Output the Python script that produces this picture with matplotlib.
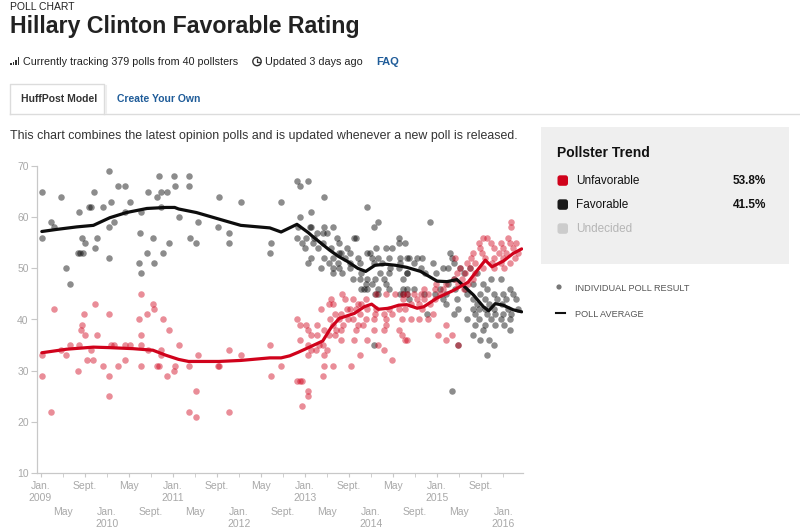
import matplotlib
matplotlib.use("Agg")
import matplotlib.pyplot as plt
from matplotlib.patches import Rectangle, Circle, FancyBboxPatch
from matplotlib.lines import Line2D
from matplotlib.transforms import IdentityTransform

plt.rcParams['font.family'] = ['Liberation Sans', 'DejaVu Sans']

# ---- data (decimal years, percent) ----
fav_dates = [
    2009.02, 2009.02, 2009.16, 2009.20, 2009.31, 2009.38, 2009.45, 2009.56, 2009.60, 2009.64,
    2009.58, 2009.63, 2009.67, 2009.73, 2009.77, 2009.81, 2009.83, 2009.85, 2009.95,
    2010.03, 2010.04, 2010.06, 2010.04, 2010.11, 2010.17, 2010.28, 2010.28, 2010.35, 2010.49,
    2010.52, 2010.51, 2010.52, 2010.62, 2010.61, 2010.70, 2010.71, 2010.77, 2010.80, 2010.83,
    2010.92, 2010.86, 2010.82, 2010.94,
    2011.02, 2011.04, 2011.09, 2011.24, 2011.24, 2011.26, 2011.35, 2011.38, 2011.70, 2011.68,
    2011.85, 2011.85,
    2012.03, 2012.47, 2012.49, 2012.64, 2012.88, 2012.88, 2012.92, 2012.93, 2012.90, 2012.95,
    2013.05, 2013.29, 2013.94, 2013.10, 2013.07, 2013.09, 2013.42, 2013.29, 2013.27, 2013.19,
    2013.34, 2013.02, 2013.14, 2013.48, 2013.12, 2013.27, 2013.52, 2013.75, 2013.78, 2013.00,
    2013.20, 2013.40, 2013.63, 2013.51, 2013.55, 2013.68, 2013.94,
    2013.10, 2013.29, 2013.42, 2013.60, 2013.80,
    2013.04, 2013.37, 2013.50, 2013.68, 2013.83,
    2013.24, 2013.42, 2013.52, 2013.68,
    2013.42, 2013.56, 2013.85,
    2013.73, 2013.83, 2013.93, 2013.85, 2013.89,
    2014.10, 2014.05, 2013.99, 2014.07, 2014.22, 2014.32, 2014.42, 2014.42, 2014.52,
    2014.01, 2014.11, 2014.27, 2014.44, 2014.54,
    2014.04, 2014.16, 2014.44,
    2014.29, 2014.42,
    2014.14, 2014.27, 2014.54,
    2013.94, 2014.06, 2014.19, 2014.49,
    2014.01, 2014.22,
    2013.94, 2014.11, 2014.27, 2014.49,
    2014.06, 2014.11, 2014.44, 2014.54,
    2014.05,
    2014.89,
    2014.57, 2014.70, 2014.77, 2015.22, 2015.20,
    2014.65, 2014.94, 2015.25,
    2014.75, 2015.09, 2015.17, 2015.35, 2015.50,
    2014.54, 2014.82, 2014.99, 2015.40, 2015.60,
    2015.25, 2015.81, 2015.96,
    2015.17, 2015.55, 2015.70,
    2014.54, 2014.65, 2015.04, 2015.27, 2015.42, 2015.75, 2016.10,
    2014.49, 2014.80, 2014.97, 2015.14, 2015.45, 2015.65, 2015.86, 2016.00, 2016.15,
    2014.57, 2015.09, 2015.30, 2015.55, 2015.73, 2015.91, 2016.05, 2016.20,
    2015.14, 2015.60, 2015.78, 2015.98,
    2015.32, 2015.55, 2015.63, 2015.73, 2015.86, 2016.07, 2016.23,
    2015.25, 2015.58, 2015.75, 2015.88, 2016.00, 2016.12, 2014.84,
    2015.45, 2015.63, 2015.81, 2015.96, 2016.10,
    2015.58, 2015.73, 2015.88, 2016.02,
    2016.10, 2015.70,
    2015.55,
    2015.65, 2015.78,
    2015.86, 2015.32,
    2015.75,
    2015.22,
]
fav_values = [
    65, 56, 59, 58, 64, 50, 47, 53, 53, 53,
    61, 56, 55, 62, 62, 65, 54, 56, 62,
    52, 69, 63, 58, 59, 66, 66, 61, 63, 51,
    49, 57, 61, 65, 53, 56, 51, 64, 68, 65,
    65, 53, 62, 55,
    68, 66, 60, 68, 66, 56, 55, 59, 64, 58,
    57, 55,
    63, 53, 55, 63, 67, 56, 66, 60, 58, 55,
    67, 64, 62, 61, 58, 58, 58, 58, 57, 57,
    57, 56, 56, 56, 55, 55, 55, 56, 56, 54,
    54, 54, 54, 53, 53, 53, 53,
    52, 52, 52, 52, 52,
    51, 51, 51, 51, 51,
    50, 50, 50, 50,
    49, 49, 49,
    48, 48, 47, 46, 46,
    59, 58, 53, 54, 54, 54, 55, 56, 55,
    52, 52, 52, 52, 52,
    51, 51, 51,
    50, 50,
    49, 49, 49,
    48, 48, 48, 48,
    47, 47,
    46, 46, 46, 46,
    45, 45, 45, 45,
    35,
    59,
    52, 52, 52, 52, 53,
    51, 51, 51,
    50, 50, 50, 50, 50,
    49, 49, 49, 49, 49,
    48, 48, 48,
    47, 47, 47,
    46, 46, 46, 46, 46, 46, 46,
    45, 45, 45, 45, 45, 45, 45, 45, 45,
    44, 44, 44, 44, 44, 44, 44, 44,
    43, 43, 43, 43,
    42, 42, 42, 42, 42, 42, 42,
    41, 41, 41, 41, 41, 41, 41,
    40, 40, 40, 40, 40,
    39, 39, 39, 39,
    38, 38,
    37,
    36, 36,
    35, 35,
    33,
    26,
]

unfav_dates = [
    2009.02, 2009.02, 2009.16, 2009.20, 2009.31, 2009.38, 2009.45, 2009.56, 2009.58, 2009.62,
    2009.63, 2009.66, 2009.67, 2009.70, 2009.76, 2009.80, 2009.83, 2009.85, 2009.95,
    2010.03, 2010.04, 2010.03, 2010.06, 2010.11, 2010.17, 2010.28, 2010.28, 2010.35, 2010.49,
    2010.52, 2010.52, 2010.52, 2010.52, 2010.61, 2010.62, 2010.70, 2010.71, 2010.77, 2010.80,
    2010.82, 2010.86, 2010.83, 2010.92, 2010.94,
    2011.02, 2011.04, 2011.09, 2011.24, 2011.38, 2011.35, 2011.25, 2011.35, 2011.68, 2011.70,
    2011.85, 2011.85,
    2012.03, 2012.47, 2012.49, 2012.64, 2012.88, 2012.93, 2012.92, 2012.88, 2012.92, 2012.95,
    2013.56,
    2013.40, 2013.60, 2013.73, 2013.92,
    2013.37, 2013.42, 2013.80, 2013.85,
    2013.24, 2013.63, 2013.68, 2013.78, 2013.94,
    2013.45, 2013.55, 2013.83,
    2013.38, 2013.52, 2013.65, 2013.73, 2013.93,
    2013.02, 2013.19, 2013.42, 2013.57, 2013.80, 2013.88,
    2013.04, 2013.29, 2013.47, 2013.55, 2013.78,
    2013.10, 2013.19, 2013.37, 2013.45,
    2013.55, 2013.75, 2013.94,
    2013.04, 2013.22, 2013.27,
    2013.09, 2013.17, 2013.34,
    2013.05, 2013.29, 2013.84,
    2013.29, 2013.42, 2013.70,
    2013.27, 2013.05, 2013.04, 2012.96,
    2014.07, 2014.22, 2014.37, 2014.49,
    2014.07, 2014.27, 2014.42, 2014.52,
    2014.06, 2014.19, 2014.32,
    2014.04, 2014.22, 2014.47,
    2014.22,
    2014.04, 2014.19, 2014.42,
    2014.47, 2014.52, 2014.11, 2014.19, 2014.32,
    2016.12, 2016.12,
    2015.70, 2015.75, 2016.07,
    2015.63, 2015.81, 2015.96, 2016.10, 2016.20,
    2015.65, 2015.86, 2016.00, 2016.15,
    2015.55, 2015.68, 2015.93, 2016.05, 2016.23,
    2015.27, 2015.52, 2015.73, 2015.86, 2016.00, 2016.18,
    2015.45, 2015.58, 2015.83, 2015.96, 2016.10,
    2015.35, 2015.50, 2015.70, 2015.86, 2016.02,
    2015.30, 2015.42, 2015.58,
    2015.25, 2015.37, 2015.55,
    2014.99, 2015.14, 2015.32, 2015.47,
    2014.80, 2014.97, 2015.09, 2015.40,
    2014.54, 2014.65, 2014.75, 2014.87, 2015.04,
    2014.49, 2014.70, 2014.80, 2014.97,
    2014.60, 2014.72, 2014.90,
    2014.77, 2014.94,
    2014.60, 2014.72, 2014.87,
    2015.14, 2015.02, 2015.22, 2014.54, 2015.14, 2015.32,
]
unfav_values = [
    33, 29, 22, 42, 34, 33, 35, 30, 35, 38,
    39, 41, 37, 32, 34, 32, 43, 37, 31,
    41, 29, 25, 35, 35, 31, 32, 35, 35, 40,
    37, 35, 31, 45, 41, 34, 43, 42, 31, 31,
    34, 40, 33, 29, 38,
    30, 31, 35, 31, 33, 26, 22, 21, 31, 31,
    34, 22,
    33, 35, 29, 31, 40, 39, 36, 28, 28, 28,
    45,
    44, 44, 44, 44,
    43, 43, 43, 43,
    42, 42, 42, 42, 42,
    41, 41, 41,
    40, 40, 40, 40, 40,
    39, 39, 39, 39, 39, 39,
    38, 38, 38, 38, 38,
    37, 37, 37, 37,
    36, 36, 36,
    35, 35, 35,
    34, 34, 34,
    33, 33, 33,
    31, 31, 31,
    29, 26, 25, 23,
    45, 45, 45, 45,
    42, 42, 42, 42,
    41, 41, 41,
    40, 40, 40,
    39,
    38, 38, 38,
    37, 36, 35, 34, 32,
    59, 58,
    56, 56, 56,
    55, 55, 55, 55, 55,
    54, 54, 54, 54,
    53, 53, 53, 53, 53,
    52, 52, 52, 52, 52, 52,
    51, 51, 51, 51, 51,
    50, 50, 50, 50, 50,
    49, 49, 49,
    48, 48, 48,
    47, 47, 47, 47,
    46, 46, 46, 46,
    45, 45, 45, 45, 45,
    44, 44, 44, 44,
    43, 43, 43,
    42, 41,
    40, 40, 40,
    39, 37, 37, 36, 36, 35,
]

fav_avg_dates = [2009.02, 2009.24, 2009.55, 2009.80, 2010.05, 2010.30, 2010.61, 2010.90, 2011.03,
                 2011.09, 2011.36, 2011.84, 2012.03, 2012.47, 2012.64, 2012.88, 2013.05, 2013.12,
                 2013.37, 2013.50, 2013.65, 2013.80, 2013.92, 2014.06, 2014.22, 2014.37, 2014.54,
                 2014.75, 2015.00, 2015.15, 2015.30, 2015.55, 2015.70, 2015.78, 2015.88, 2016.00,
                 2016.15, 2016.28]
fav_avg = [57.2, 57.6, 58.1, 58.4, 59.9, 60.9, 61.7, 61.9, 61.9,
           61.6, 60.9, 59.1, 58.4, 57.9, 57.1, 58.6, 57.0, 56.2,
           53.6, 52.4, 51.3, 50.0, 49.4, 50.6, 50.8, 50.6, 50.2,
           49.4, 47.5, 47.4, 47.8, 44.8, 42.5, 41.7, 43.1, 42.8,
           41.9, 41.5]

unfav_avg_dates = [2009.02, 2009.40, 2009.80, 2010.05, 2010.40, 2010.70, 2010.90, 2011.09, 2011.24,
                   2011.70, 2012.03, 2012.47, 2012.64, 2012.77, 2012.90, 2013.07, 2013.27, 2013.40,
                   2013.52, 2013.75, 2013.90, 2014.01, 2014.11, 2014.27, 2014.42, 2014.54, 2014.70,
                   2014.80, 2015.00, 2015.25, 2015.47, 2015.65, 2015.73, 2015.83, 2016.00, 2016.15,
                   2016.28]
unfav_avg = [33.5, 34.2, 34.6, 34.5, 34.3, 34.0, 33.0, 32.2, 31.8,
             31.8, 32.0, 32.5, 32.5, 32.9, 33.6, 34.6, 35.8, 38.5,
             40.2, 41.2, 42.5, 43.0, 42.0, 42.2, 42.8, 42.9, 42.2,
             42.5, 44.2, 45.7, 47.3, 50.3, 51.6, 50.3, 51.4, 52.9,
             53.8]

tick_years = [2009, 2009, 2009, 2010, 2010, 2010, 2011, 2011, 2011, 2012, 2012, 2012,
              2013, 2013, 2013, 2014, 2014, 2014, 2015, 2015, 2015, 2016]
tick_months = [1, 5, 9] * 7 + [1]
month_names = {1: "Jan.", 5: "May", 9: "Sept."}

trend_names = ["Unfavorable", "Favorable", "Undecided"]
trend_values = ["53.8%", "41.5%", ""]

RED = "#d0021b"
fig = plt.figure(figsize=(8, 5.31), dpi=100)
W, H = 800, 531


def fx(x):
    return x / W


def fy(y):
    return 1 - y / H


# ---- header ----
fig.text(fx(10), fy(10.5), "POLL CHART", fontsize=7.5, color="#222", va="baseline")
fig.text(fx(10), fy(33), "Hillary Clinton Favorable Rating", fontsize=16.7, fontweight="bold",
         color="#222", va="baseline")

# signal icon
for i, h in enumerate([2, 3.5, 5.5, 8]):
    fig.add_artist(Rectangle((10 + i * 2.6, H - 65), 1.6, h, transform=IdentityTransform(),
                             color="#333", lw=0))
fig.text(fx(23), fy(65), "Currently tracking 379 polls from 40 pollsters", fontsize=7.75,
         color="#222", va="baseline")
fig.add_artist(Circle((257, H - 61.5), 4.2, transform=IdentityTransform(), fill=False,
                      ec="#333", lw=1))
fig.add_artist(Line2D([257, 257, 259.5], [H - 59, H - 61.5, H - 61.5], transform=IdentityTransform(),
                      color="#333", lw=0.9))
fig.text(fx(265), fy(65), "Updated 3 days ago", fontsize=7.75, color="#222", va="baseline")
fig.text(fx(376), fy(65), "FAQ", fontsize=8, color="#1f5c99", fontweight="bold", va="baseline")

# tabs
fig.add_artist(Line2D([10, W], [H - 114, H - 114], transform=IdentityTransform(), color="#dcdcdc", lw=1))
fig.add_artist(Line2D([10, 10, 104, 104], [H - 114, H - 84, H - 84, H - 114],
                      transform=IdentityTransform(), color="#dcdcdc", lw=1))
fig.add_artist(Line2D([105.5, 105.5], [H - 113, H - 86], transform=IdentityTransform(),
                      color="#eeeeee", lw=1.5))
fig.text(fx(21), fy(102.5), "HuffPost Model", fontsize=7.5, fontweight="bold", color="#333",
         va="baseline")
fig.text(fx(117), fy(102.5), "Create Your Own", fontsize=7.5, fontweight="bold", color="#1f5c99",
         va="baseline")

fig.text(fx(10), fy(138.5),
         "This chart combines the latest opinion polls and is updated whenever a new poll is released.",
         fontsize=8.9, color="#333", va="baseline")

# ---- right panel ----
fig.add_artist(Rectangle((541, H - 264), 248, 137, transform=IdentityTransform(),
                         color="#efefef", lw=0))
fig.text(fx(557), fy(156.7), "Pollster Trend", fontsize=10, fontweight="bold", color="#111",
         va="baseline")
sq_colors = [RED, "#1a1a1a", "#cccccc"]
txt_colors = ["#111", "#111", "#b5b5b5"]
for i, (name, val) in enumerate(zip(trend_names, trend_values)):
    base = 184.3 + i * 24
    fig.add_artist(FancyBboxPatch((557.5, H - base - 1.5), 10.5, 10.5,
                                  boxstyle="round,pad=0,rounding_size=2.5",
                                  transform=IdentityTransform(), color=sq_colors[i], lw=0))
    fig.text(fx(576), fy(base), name, fontsize=8.5, color=txt_colors[i], va="baseline")
    fig.text(fx(766), fy(base), val, fontsize=8.5, fontweight="bold", color="#111",
             va="baseline", ha="right")

fig.add_artist(Circle((559, H - 287), 2.6, transform=IdentityTransform(), color="#777", lw=0))
fig.text(fx(575), fy(290.7), "INDIVIDUAL POLL RESULT", fontsize=6.6, color="#555", va="baseline")
fig.add_artist(Line2D([555.5, 565], [H - 312.8, H - 312.8], transform=IdentityTransform(),
                      color="#111", lw=1.5))
fig.text(fx(575), fy(316.7), "POLL AVERAGE", fontsize=6.6, color="#555", va="baseline")

# ---- chart ----
ax = fig.add_axes([fx(37), fy(473), fx(523) - fx(37), fy(166) - fy(473)])
ax.scatter(fav_dates, fav_values, s=22, color="black", alpha=0.45, lw=0, zorder=2)
ax.scatter(unfav_dates, unfav_values, s=22, color=RED, alpha=0.45, lw=0, zorder=2)
ax.plot(fav_avg_dates, fav_avg, color="#0d0d0d", lw=2.3, zorder=3, solid_capstyle="round")
ax.plot(unfav_avg_dates, unfav_avg, color=RED, lw=2.3, zorder=3, solid_capstyle="round")

ax.set_xlim(2008.947, 2016.30)
ax.set_ylim(10, 70)
ax.set_yticks(range(10, 71, 10))
for s in ["top", "right"]:
    ax.spines[s].set_visible(False)
for s in ["left", "bottom"]:
    ax.spines[s].set_color("#c8c8c8")
    ax.spines[s].set_linewidth(0.9)

pos = [y + (m - 1) / 12 for y, m in zip(tick_years, tick_months)]
labels = [month_names[m] + ("\n%d" % y if m == 1 else "") for y, m in zip(tick_years, tick_months)]
ax.set_xticks(pos[0::2])
ax.set_xticklabels(labels[0::2])
ax.set_xticks(pos[1::2], minor=True)
ax.set_xticklabels(labels[1::2], minor=True)
ax.tick_params(axis="x", which="major", length=3, color="#c8c8c8", labelsize=7.5,
               labelcolor="#a8a8a8", pad=3)
ax.tick_params(axis="x", which="minor", length=3, color="#c8c8c8", labelsize=7.5,
               labelcolor="#a8a8a8", pad=21.5)
ax.tick_params(axis="y", length=4, color="#c8c8c8", labelsize=7.5, labelcolor="#a8a8a8", pad=2)
for t in ax.get_xticklabels(minor=False) + ax.get_xticklabels(minor=True):
    t.set_linespacing(1.2)
    t.set_va("top")

fig.savefig("out.png", dpi=100)
